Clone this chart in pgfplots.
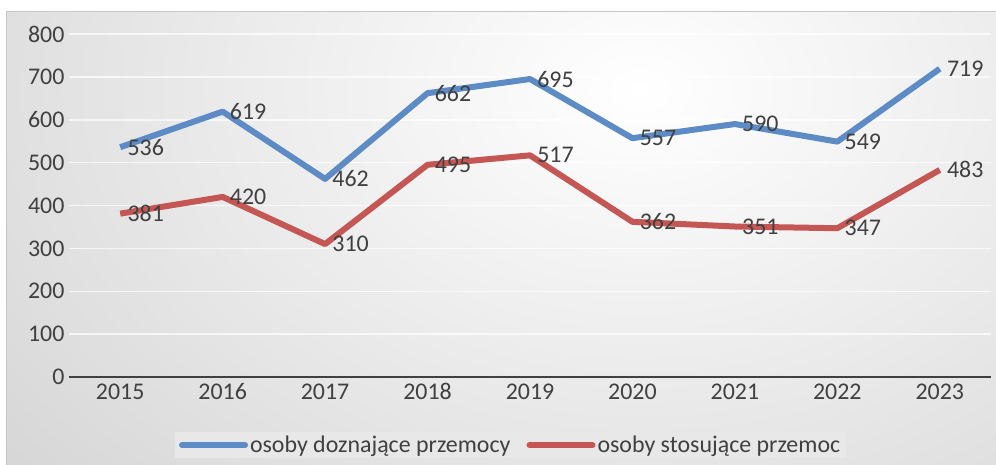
\documentclass[border=0pt]{standalone}
\usepackage{fontspec}
\setmainfont{Carlito}
\usepackage{pgfplots}
\pgfplotsset{compat=1.18}
\definecolor{serA}{RGB}{92,139,198}
\definecolor{serB}{RGB}{196,86,83}
\definecolor{txt}{RGB}{64,64,64}
\definecolor{bgout}{RGB}{186,186,186}
\definecolor{legfill}{RGB}{232,232,232}

\begin{document}
\begin{tikzpicture}
% chart area background
\fill[bgout] (-62bp,-88bp) rectangle (927bp,365bp);
\begin{scope}
  \clip (-62bp,-88bp) rectangle (927bp,365bp);
  \shade[inner color=white, outer color=bgout] (571bp,287bp) ellipse (1400bp and 1000bp);
\end{scope}
\draw[gray!45, line width=1bp] (-62bp,-88bp) -- (-62bp,365bp) -- (927bp,365bp);
\begin{axis}[
    scale only axis, width=922bp, height=343bp,
    xmin=-0.5, xmax=8.5, ymin=0, ymax=800,
    xtick={0,...,8},
    xticklabels={2015,2016,2017,2018,2019,2020,2021,2022,2023},
    ytick={0,100,...,800},
    axis x line=bottom, axis y line=left,
    x axis line style={draw=txt, line width=2.5bp, -},
    y axis line style={draw=none},
    major tick length=0pt,
    ymajorgrids, grid style={white, opacity=0.7, line width=1.5bp},
    tick label style={font=\fontsize{24}{28}\selectfont, text=txt},
    /pgf/number format/assume math mode=true,
    /pgf/number format/1000 sep={},
    xticklabel style={yshift=-3bp},
    yticklabel style={xshift=-1bp},
    legend style={at={(0.479,-0.160)}, anchor=north, draw=none, fill=legfill,
        legend columns=2, font=\fontsize{24}{28}\selectfont, text=txt,
        inner xsep=4bp, inner ysep=2bp,
        /tikz/every even column/.append style={column sep=14bp}},
    legend image code/.code={\draw[#1, line cap=round] (0bp,0bp) -- (63bp,0bp);},
    nodes near coords,
    every node near coord/.append style={anchor=west, xshift=1bp,
        font=\fontsize{24}{28}\selectfont, text=txt},
    clip=false,
]
\addplot[serA, line width=6bp, line join=round, mark=none] coordinates {
    (0,536) (1,619) (2,462) (3,662) (4,695) (5,557) (6,590) (7,549) (8,719)};
\addlegendentry{osoby doznające przemocy}
\addplot[serB, line width=6bp, line join=round, mark=none] coordinates {
    (0,381) (1,420) (2,310) (3,495) (4,517) (5,362) (6,351) (7,347) (8,483)};
\addlegendentry{osoby stosujące przemoc}
\end{axis}
\pgfresetboundingbox
\path[use as bounding box] (-69bp,-88bp) rectangle (927bp,377bp);
\end{tikzpicture}
\end{document}
